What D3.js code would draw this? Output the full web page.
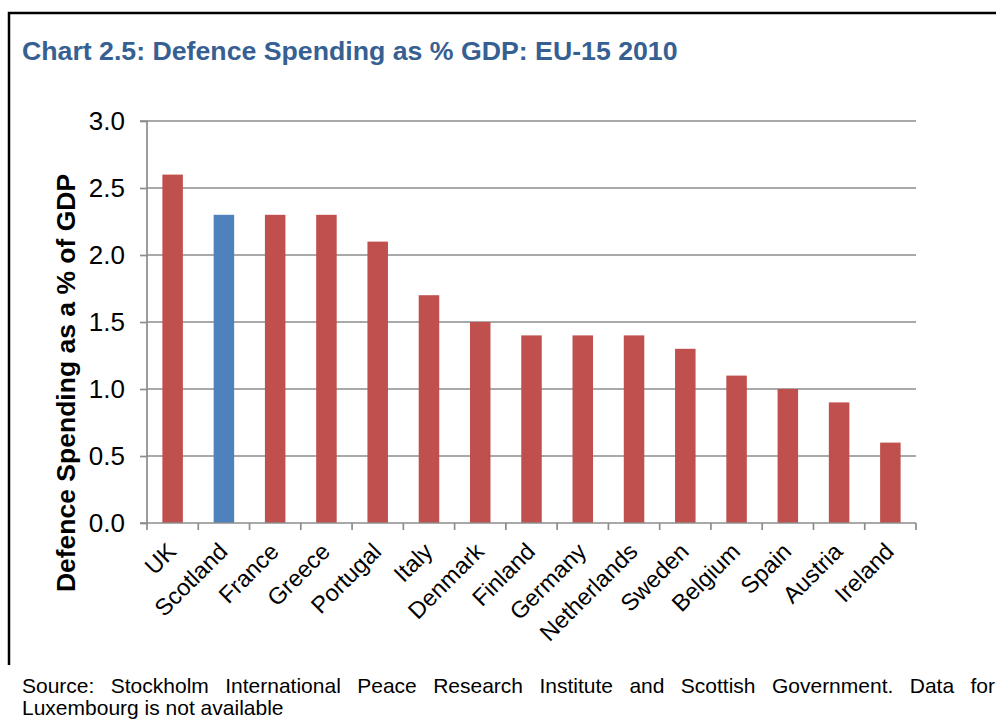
<!DOCTYPE html>
<html>
<head>
<meta charset="utf-8">
<script src="https://cdn.jsdelivr.net/npm/d3@7"></script>
<style>
  html, body { margin: 0; padding: 0; background: #fff; }
  svg { display: block; }
</style>
</head>
<body>
<svg id="chart" width="996" height="722"></svg>
<script>
const categories = ["UK","Scotland","France","Greece","Portugal","Italy","Denmark","Finland","Germany","Netherlands","Sweden","Belgium","Spain","Austria","Ireland"];
const values = [2.6, 2.3, 2.3, 2.3, 2.1, 1.7, 1.5, 1.4, 1.4, 1.4, 1.3, 1.1, 1.0, 0.9, 0.6];
const highlight = ["Scotland"];
const yTicks = [0, 0.5, 1.0, 1.5, 2.0, 2.5, 3.0];
const titleText = "Chart 2.5: Defence Spending as % GDP: EU-15 2010";
const yLabel = "Defence Spending as a % of GDP";
const sourceLine1 = "Source: Stockholm International Peace Research Institute and Scottish Government.  Data for";
const sourceLine2 = "Luxembourg is not available";

const svg = d3.select("#chart");
const font = "Arial, 'Liberation Sans', sans-serif";

// frame
svg.append("path")
  .attr("d", "M9,665 V13 H1000")
  .attr("fill", "none").attr("stroke", "#000").attr("stroke-width", 2.5);

svg.append("text")
  .attr("x", 22).attr("y", 60)
  .attr("font-family", font).attr("font-weight", "bold").attr("font-size", 26.7)
  .attr("fill", "#376092")
  .text(titleText);

const x = d3.scaleBand().domain(categories).range([147, 916]).paddingInner(0.6).paddingOuter(0.3);
const y = d3.scaleLinear().domain([0, 3]).range([523, 121]);

const gridColor = "#8c8c8c";

// gridlines
svg.append("g").selectAll("line").data(yTicks.filter(d => d > 0)).join("line")
  .attr("x1", 147).attr("x2", 916)
  .attr("y1", d => y(d)).attr("y2", d => y(d))
  .attr("stroke", gridColor).attr("stroke-width", 1.7);

// bars
svg.append("g").selectAll("rect").data(categories).join("rect")
  .attr("x", (d) => x(d))
  .attr("width", x.bandwidth())
  .attr("y", (d, i) => y(values[i]))
  .attr("height", (d, i) => y(0) - y(values[i]))
  .attr("fill", d => highlight.includes(d) ? "#4F81BD" : "#C0504D");

// y axis
const yAxis = d3.axisLeft(y).tickValues(yTicks).tickFormat(d3.format(".1f")).tickSize(7).tickPadding(15);
const gy = svg.append("g").attr("transform", "translate(147,0)").call(yAxis);
gy.select(".domain").attr("stroke", gridColor).attr("stroke-width", 1.7).attr("d", `M-7,${y(3)}H0V${y(0)}H-7`);
gy.selectAll(".tick line").attr("stroke", gridColor).attr("stroke-width", 1.7);
gy.selectAll("text").attr("font-family", font).attr("font-size", 26).attr("fill", "#000");

// x axis
const xAxis = d3.axisBottom(x).tickSize(0).tickFormat("");
const gx = svg.append("g").attr("transform", `translate(0,${y(0)})`).call(xAxis);
gx.select(".domain").attr("stroke", gridColor).attr("stroke-width", 1.7).attr("d", `M147,0H916`);
// tick marks at band boundaries
const b0 = x(categories[0]) - x.step() * x.paddingInner() / 2 - x.step() * (x.paddingOuter() - x.paddingInner() / 2) * 0;
const tickXs = d3.range(categories.length + 1).map(i => x.range()[0] + i * (x.range()[1] - x.range()[0]) / categories.length);
gx.append("g").selectAll("line").data(tickXs).join("line")
  .attr("x1", d => d).attr("x2", d => d).attr("y1", 0).attr("y2", 7)
  .attr("stroke", gridColor).attr("stroke-width", 1.7);

// x labels
svg.append("g").selectAll("text").data(categories).join("text")
  .attr("transform", d => `translate(${x(d) + x.bandwidth() / 2 + 5},${y(0) + 30}) rotate(-45)`)
  .attr("text-anchor", "end")
  .attr("font-family", font).attr("font-size", 23.5).attr("fill", "#000")
  .text(d => d);

// y label
svg.append("text")
  .attr("transform", "translate(75,383) rotate(-90)")
  .attr("text-anchor", "middle")
  .attr("font-family", font).attr("font-weight", "bold").attr("font-size", 26.5).attr("fill", "#000")
  .text(yLabel);

// source (justified first line)
const srcFont = font;
const srcSize = 21;
const words = sourceLine1.split(/\s+/);
const tmp = svg.append("text").attr("font-family", srcFont).attr("font-size", srcSize);
const widths = words.map(w => { tmp.text(w); return tmp.node().getComputedTextLength(); });
tmp.remove();
const left = 22, right = 995;
const gap = (right - left - d3.sum(widths)) / (words.length - 1);
let cx = left;
const src = svg.append("g").attr("font-family", srcFont).attr("font-size", srcSize).attr("fill", "#000");
words.forEach((w, i) => {
  src.append("text").attr("x", cx).attr("y", 693).text(w);
  cx += widths[i] + gap;
});
src.append("text").attr("x", left).attr("y", 715).text(sourceLine2);
</script>
</body>
</html>
